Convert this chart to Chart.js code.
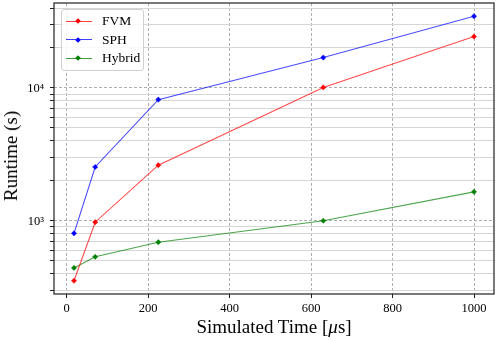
<!DOCTYPE html>
<html>
<head>
<meta charset="utf-8">
<script src="https://cdn.jsdelivr.net/npm/chart.js@4"></script>
<style>
  body { margin: 0; background: #fff; }
  #wrap { position: relative; width: 498px; height: 341px; font-family: "Liberation Serif", "DejaVu Serif", serif; }
  #runtimeChart { position: absolute; left: 0; top: 0; }
  .ytitle { position: absolute; left: 11px; top: 156px; transform: translate(-50%, -50%) rotate(-90deg); font-size: 19px; white-space: nowrap; color: #000; }
  .xtitle { position: absolute; left: 274px; top: 327px; transform: translate(-50%, -50%); font-size: 19px; white-space: nowrap; color: #000; }
  .legend { position: absolute; left: 61px; top: 9px; width: 83px; height: 62px; box-sizing: border-box; border: 1px solid #d0d0d0; border-radius: 3px; background: rgba(255,255,255,0.85); }
  .row { position: absolute; left: 0; height: 0; }
  .row .ln { position: absolute; left: 4px; width: 26px; height: 1px; top: -0.5px; opacity: 0.75; }
  .row .mk { position: absolute; left: 14px; width: 4px; height: 4px; top: -2px; transform: rotate(45deg); }
  .row .tx { position: absolute; left: 40px; top: -9px; font-size: 13.5px; line-height: 18px; white-space: nowrap; color: #000; }
</style>
</head>
<body>
<div id="wrap">
  <canvas id="runtimeChart" width="498" height="341"></canvas>
  <div class="ytitle">Runtime (s)</div>
  <div class="xtitle">Simulated Time [<i>μ</i>s]</div>
  <div class="legend" id="legend"></div>
</div>
<script>
// Chart data
const simTimes = [18, 70, 225, 630, 1000];
const fvmRuntime = [353, 975, 2620, 10100, 24400];
const sphRuntime = [804, 2540, 8170, 16950, 34700];
const hybridRuntime = [441, 535, 689, 1000, 1650];
const seriesNames = ["FVM", "SPH", "Hybrid"];
const seriesColors = ["#ff0000", "#0000ff", "#008000"];
const xTickValues = [0, 200, 400, 600, 800, 1000];
const yMajorValues = [1000, 10000];
const yMajorLabels = ["10³", "10⁴"];

const allSeries = [fvmRuntime, sphRuntime, hybridRuntime];

// axis limits with 5% margins like matplotlib
const xMinData = Math.min(...simTimes);
const xMaxData = Math.max(...simTimes);
const xPad = (xMaxData - xMinData) * 0.05;
const allY = allSeries.flat();
const lyMin = Math.log10(Math.min(...allY));
const lyMax = Math.log10(Math.max(...allY));
const lyPad = (lyMax - lyMin) * 0.05;
const yMin = Math.pow(10, lyMin - lyPad);
const yMax = Math.pow(10, lyMax + lyPad);

// minor + major log ticks inside the range
const yTickValues = [];
for (let dec = 100; dec <= 100000; dec *= 10) {
  for (let m = 1; m <= 9; m++) {
    const v = m * dec;
    if (v >= yMin && v <= yMax) yTickValues.push(v);
  }
}

function hexAlpha(hex, a) {
  const r = parseInt(hex.slice(1, 3), 16);
  const g = parseInt(hex.slice(3, 5), 16);
  const b = parseInt(hex.slice(5, 7), 16);
  return "rgba(" + r + "," + g + "," + b + "," + a + ")";
}

const datasets = allSeries.map((vals, i) => ({
  label: seriesNames[i],
  data: simTimes.map((t, j) => ({ x: t, y: vals[j] })),
  borderColor: hexAlpha(seriesColors[i], 0.7),
  backgroundColor: seriesColors[i],
  pointBackgroundColor: seriesColors[i],
  pointBorderColor: seriesColors[i],
  pointStyle: "rectRot",
  pointRadius: 2.6,
  pointBorderWidth: 0.5,
  borderWidth: 1.1,
  tension: 0,
}));

// frame round the plot area
const framePlugin = {
  id: "frame",
  afterDatasetsDraw(chart) {
    const { ctx, chartArea: a } = chart;
    ctx.save();
    ctx.strokeStyle = "#222";
    ctx.lineWidth = 1.2;
    ctx.strokeRect(a.left, a.top, a.right - a.left, a.bottom - a.top);
    ctx.restore();
  },
};

const isMajor = (v) => yMajorValues.includes(v);

function initChart() {
  const ctx = document.getElementById("runtimeChart").getContext("2d");
  new Chart(ctx, {
    type: "line",
    data: { datasets: datasets },
    plugins: [framePlugin],
    options: {
      responsive: false,
      animation: false,
      layout: { padding: { top: 3, right: 4, left: 0, bottom: 0 }, autoPadding: false },
      plugins: { legend: { display: false }, tooltip: { enabled: false } },
      scales: {
        x: {
          type: "linear",
          min: xMinData - xPad,
          max: xMaxData + xPad,
          afterBuildTicks: (scale) => {
            scale.ticks = xTickValues.map((v) => ({ value: v }));
          },
          afterFit: (scale) => {
            scale.height = 47;
            scale.paddingLeft = 0;
            scale.paddingRight = 0;
          },
          grid: {
            color: "#9a9a9a",
            lineWidth: 0.8,
            tickColor: "#222",
            tickLength: 4,
            tickWidth: 1,
          },
          border: { display: false, dash: [3, 2] },
          ticks: {
            color: "#000",
            padding: 3,
            maxRotation: 0,
            autoSkip: false,
            font: { family: "Liberation Serif", size: 12.5 },
            callback: (value) => String(value),
          },
        },
        y: {
          type: "logarithmic",
          min: yMin,
          max: yMax,
          afterBuildTicks: (scale) => {
            scale.ticks = yTickValues.map((v) => ({ value: v, major: isMajor(v) }));
          },
          afterFit: (scale) => {
            scale.width = 54;
            scale.paddingTop = 0;
            scale.paddingBottom = 0;
          },
          grid: {
            color: (c) => (c.tick && isMajor(c.tick.value) ? "#9a9a9a" : "#d6d6d6"),
            lineWidth: (c) => (c.tick && isMajor(c.tick.value) ? 0.8 : 1),
            tickColor: "#222",
            tickLength: 4,
            tickWidth: 1,
          },
          border: {
            display: false,
            dash: (c) => (c.tick && isMajor(c.tick.value) ? [3, 2] : []),
          },
          ticks: {
            color: "#000",
            padding: 6,
            autoSkip: false,
            labelOffset: 1,
            font: { family: "Liberation Serif", size: 12.5 },
            callback: function (value) {
              const k = yMajorValues.indexOf(value);
              return k >= 0 ? yMajorLabels[k] : "";
            },
          },
        },
      },
    },
  });
}

// HTML legend inside the axes
function buildLegend() {
  const box = document.getElementById("legend");
  const rowTops = [11, 29.5, 48];
  seriesNames.forEach((name, i) => {
    const row = document.createElement("div");
    row.className = "row";
    row.style.top = rowTops[i] + "px";
    row.innerHTML =
      '<div class="ln" style="background:' + seriesColors[i] + '"></div>' +
      '<div class="mk" style="background:' + seriesColors[i] + '"></div>' +
      '<div class="tx">' + name + "</div>";
    box.appendChild(row);
  });
}

initChart();
buildLegend();
</script>
</body>
</html>
